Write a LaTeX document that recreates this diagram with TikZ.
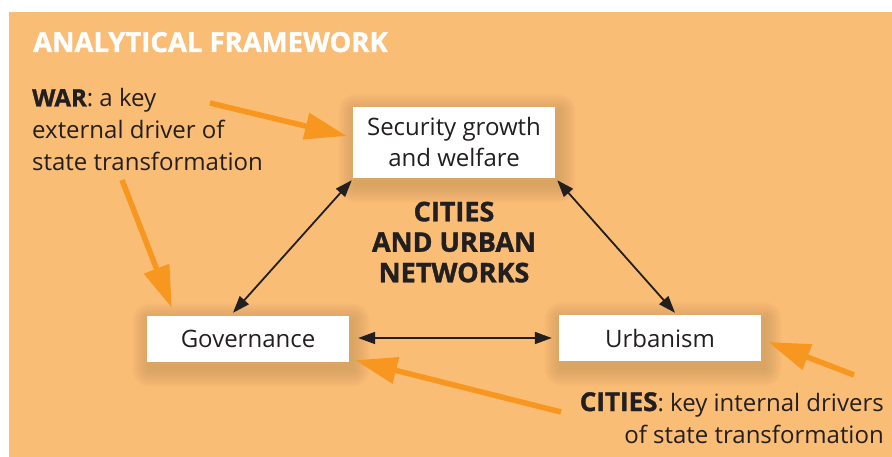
\documentclass[tikz,border=0pt]{standalone}
\usepackage{fontspec}
\setmainfont{Open Sans}[BoldFeatures={FakeBold=1.3}]
\usetikzlibrary{arrows.meta}
\definecolor{bg}{HTML}{FABD76}
\definecolor{org}{HTML}{F7971F}
\definecolor{ink}{HTML}{231F20}
\definecolor{shd}{HTML}{8A5A20}
\pgfdeclarelayer{bglayer}
\pgfdeclarelayer{shadowlayer}
\pgfsetlayers{bglayer,shadowlayer,main}
\begin{document}
\begin{tikzpicture}[x=1pt,y=-1pt,
  box/.style={fill=white, inner sep=0pt, minimum width=202pt, text=ink,
    font=\fontsize{24}{31}\selectfont, align=center},
  lbl/.style={inner sep=0pt, text=ink, font=\fontsize{24}{32}\selectfont},
  oarrow/.style={draw=org, line width=5.5pt, -{Triangle[length=42pt,width=26pt]}},
  barrow/.style={draw=ink, line width=1.8pt, {Triangle[length=17pt,width=12pt]}-{Triangle[length=17pt,width=12pt]}}]
\useasboundingbox (0,0) rectangle (892,457);
\begin{pgfonlayer}{bglayer}
\fill[white] (0,0) rectangle (892,457);
\fill[bg] (9,12) rectangle (892,457);
\end{pgfonlayer}

\node[anchor=base west, inner sep=0pt, text=white, font=\bfseries\fontsize{27.5}{28}\selectfont] (title) at (33,52) {ANALYTICAL FRAMEWORK};

\node[box, minimum height=71pt] (sec) at (454,142.5) {Security growth\\and welfare};
\node[box, minimum height=46pt] (gov) at (248,339) {Governance};
\node[box, minimum height=46pt] (urb) at (660,338) {Urbanism};

\begin{pgfonlayer}{shadowlayer}
\foreach \n in {sec,gov,urb}{
  \foreach \i in {1,...,18}{
    \fill[shd, opacity=0.013, rounded corners=\i pt]
      ([shift={(3-\i,5-\i)}]\n.north west) rectangle ([shift={(3+\i,7+\i)}]\n.south east);
  }
}
\end{pgfonlayer}

\node[lbl, anchor=north west, align=left] (war) at (32,88) {\textbf{WAR}: a key\\external driver of\\state transformation};
\node[lbl, anchor=north, align=center, font=\bfseries\fontsize{27}{30.5}\selectfont] (cities) at (454,201.5) {CITIES\\AND URBAN\\NETWORKS};
\node[lbl, anchor=north east, align=right] (drv) at (884,392) {{\bfseries\fontsize{26}{32}\selectfont CITIES}: key internal drivers\\of state transformation};

\draw[barrow] ([shift={(-15,-3)}]gov.north) -- ([shift={(-1,2)}]sec.south west);
\draw[barrow] ([shift={(2,2)}]sec.south east) -- ([shift={(15,-2)}]urb.north);
\draw[barrow] ([shift={(9,-1)}]gov.east) -- ([shift={(-7,0)}]urb.west);

\coordinate (w1) at (210,103);
\coordinate (w2) at (122,180);
\coordinate (c1) at (561,412);
\coordinate (c2) at (854,375);
\draw[oarrow] (w1) -- ([shift={(-6,-6.5)}]sec.west);
\draw[oarrow] (w2) -- ([shift={(25,-8)}]gov.north west);
\draw[oarrow] (c1) -- ([shift={(6,-2)}]gov.south east);
\draw[oarrow] (c2) -- ([shift={(7,4)}]urb.east);
\end{tikzpicture}
\end{document}
